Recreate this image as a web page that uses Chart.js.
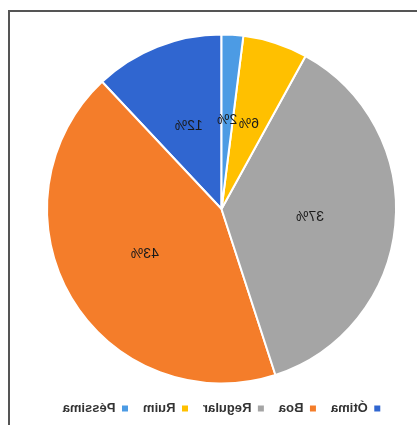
<!DOCTYPE html>
<html>
<head>
<meta charset="utf-8">
<script src="https://cdn.jsdelivr.net/npm/chart.js@4"></script>
<style>
  html, body { margin: 0; padding: 0; background: #fff; }
  #wrap { position: relative; width: 417px; height: 425px; overflow: hidden; }
  #frame {
    position: absolute; left: 8px; top: 10px; right: -10px; bottom: -10px;
    border-top: 2px solid #555; border-left: 2px solid #555;
  }
  #box { position: absolute; left: 0; top: 0; width: 417px; height: 425px; transform: scaleX(-1); }
</style>
</head>
<body>
<div id="wrap">
  <div id="frame"></div>
  <div id="box"><canvas id="c" width="417" height="425"></canvas></div>
</div>
<script>
// Survey answers and their shares (percent)
const categories = ['Ótima', 'Boa', 'Regular', 'Ruim', 'Péssima'];
const shares = [12, 43, 37, 6, 2];
const sliceColors = ['#3066D0', '#F47D2A', '#A5A5A5', '#FFC000', '#4C9BE4'];

// Writes each slice's percentage halfway along its middle radius
const sliceLabels = {
  id: 'sliceLabels',
  afterDatasetsDraw(chart) {
    const ctx = chart.ctx;
    const meta = chart.getDatasetMeta(0);
    const values = chart.data.datasets[0].data;
    ctx.save();
    ctx.font = '14px "Liberation Sans", Arial, sans-serif';
    ctx.fillStyle = '#1a1a1a';
    ctx.textAlign = 'center';
    ctx.textBaseline = 'middle';
    meta.data.forEach((arc, i) => {
      const p = arc.getProps(['x', 'y', 'startAngle', 'endAngle', 'outerRadius'], true);
      const mid = (p.startAngle + p.endAngle) / 2;
      const r = p.outerRadius * 0.51;
      ctx.fillText(values[i] + '%', p.x + Math.cos(mid) * r, p.y + Math.sin(mid) * r);
    });
    ctx.restore();
  }
};

new Chart(document.getElementById('c'), {
  type: 'pie',
  data: {
    labels: categories,
    datasets: [{
      data: shares,
      backgroundColor: sliceColors,
      borderColor: '#ffffff',
      borderWidth: 2
    }]
  },
  options: {
    responsive: false,
    animation: false,
    layout: { padding: { left: 20, right: 46, top: 31, bottom: 0 } },
    plugins: {
      tooltip: { enabled: false },
      legend: {
        position: 'bottom',
        labels: {
          boxWidth: 6,
          boxHeight: 6,
          padding: 15,
          color: '#333',
          font: { family: '"Liberation Sans", Arial, sans-serif', size: 13, weight: 'bold' },
          generateLabels(chart) {
            const items = Chart.controllers.pie.overrides.plugins.legend.labels.generateLabels(chart);
            items.forEach(it => { it.lineWidth = 0; it.strokeStyle = it.fillStyle; });
            return items;
          }
        }
      }
    }
  },
  plugins: [sliceLabels]
});
</script>
</body>
</html>
